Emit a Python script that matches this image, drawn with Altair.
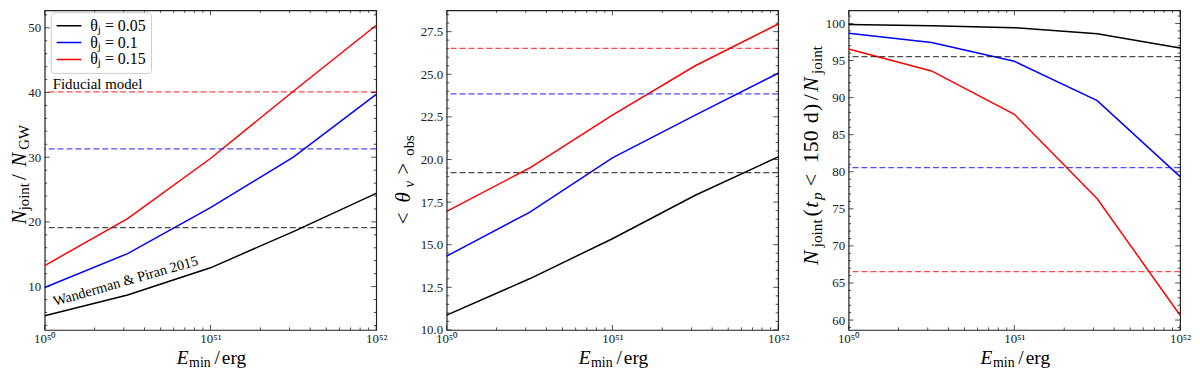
import altair as alt
import pandas as pd

FONT = "Liberation Serif"

# ---------------- data ----------------
E_min = [1e50, 3.1623e50, 1e51, 3.1623e51, 1e52]
series = ["θⱼ = 0.05", "θⱼ = 0.1", "θⱼ = 0.15"]
colors = ["#000000", "#0000ff", "#ff0000"]

n_joint_005 = [5.5, 8.7, 12.9, 18.5, 24.4]
n_joint_010 = [9.85, 15.1, 22.2, 30.0, 39.7]
n_joint_015 = [13.25, 20.5, 29.8, 40.2, 50.4]
n_joint_fid = [19.1, 31.3, 40.1]

theta_005 = [10.87, 13.0, 15.35, 17.9, 20.15]
theta_010 = [14.33, 16.9, 20.1, 22.6, 25.06]
theta_015 = [16.96, 19.5, 22.6, 25.5, 27.95]
theta_fid = [19.23, 23.85, 26.52]

frac_005 = [99.87, 99.7, 99.43, 98.6, 96.7]
frac_010 = [98.67, 97.44, 94.9, 89.6, 79.35]
frac_015 = [96.55, 93.6, 87.75, 76.35, 60.65]
frac_fid = [95.53, 80.55, 66.53]

x_major = [1e50, 1e51, 1e52]
x_tick_labels = ["10⁵⁰", "10⁵¹", "10⁵²"]
x_minor = [k * 10.0 ** n for n in (50, 51) for k in range(2, 10)]

y1_major = [10, 20, 30, 40, 50]
y1_minor = [v for v in range(4, 53, 2) if v % 10]
y2_major = [10.0, 12.5, 15.0, 17.5, 20.0, 22.5, 25.0, 27.5]
y2_minor = [10 + 0.5 * i for i in range(38) if (i % 5)]
y3_major = [60, 65, 70, 75, 80, 85, 90, 95, 100]
y3_minor = [v for v in range(59, 102) if v % 5]

W, H = 334, 322

xscale = alt.Scale(type="log", domain=[1e50, 1e52], nice=False)
cscale = alt.Scale(domain=series, range=colors)

label_expr = "datum.value < 5e50 ? '%s' : (datum.value < 5e51 ? '%s' : '%s')" % tuple(x_tick_labels)

xaxis = alt.Axis(
    values=x_major, labelExpr=label_expr, ticks=False, domain=False, grid=False,
    title=None, labelFlush=False, labelOverlap=False, labelPadding=3,
    labelFont=FONT, labelFontSize=13, labelColor="#222")


def make_yaxis(ymajor, yfmt):
    return alt.Axis(
        values=ymajor, format=yfmt, ticks=False, domain=False, grid=False,
        title=None, labelFlush=False, labelOverlap=False, labelPadding=4,
        labelFont=FONT, labelFontSize=13, labelColor="#222")


def txt(s, x, y, size, italic=False, angle=0):
    return alt.Chart(pd.DataFrame({"t": [s]})).mark_text(
        align="left", baseline="alphabetic", angle=angle, fontSize=size,
        font=FONT, fontStyle="italic" if italic else "normal", color="#000"
    ).encode(x=alt.value(x), y=alt.value(y), text="t:N")


def x_title():
    # E_min / erg
    mb, sb = 356, 359.5
    return [
        txt("E", 133, mb, 19.5, italic=True),
        txt("min", 145.5, sb, 14),
        txt("/", 171, mb, 19.5),
        txt("erg", 178.5, mb, 19.5),
    ]


def tick_layers(yscale, yaxis, ymajor, yminor):
    layers = []
    for vals, L in ((x_major, 5), (x_minor, 2.5)):
        d = pd.DataFrame({"E": vals})
        layers.append(alt.Chart(d).mark_rule(color="#222", strokeWidth=0.8).encode(
            x=alt.X("E:Q", scale=xscale, axis=xaxis), y=alt.value(H), y2=alt.value(H - L)))
        layers.append(alt.Chart(d).mark_rule(color="#222", strokeWidth=0.8).encode(
            x=alt.X("E:Q", scale=xscale, axis=xaxis), y=alt.value(0), y2=alt.value(L)))
    for vals, L in ((ymajor, 5), (yminor, 2.5)):
        d = pd.DataFrame({"v": vals})
        layers.append(alt.Chart(d).mark_rule(color="#222", strokeWidth=0.8).encode(
            y=alt.Y("v:Q", scale=yscale, axis=yaxis), x=alt.value(0), x2=alt.value(L)))
        layers.append(alt.Chart(d).mark_rule(color="#222", strokeWidth=0.8).encode(
            y=alt.Y("v:Q", scale=yscale, axis=yaxis), x=alt.value(W - L), x2=alt.value(W)))
    return layers


def panel(vals, fid, ydomain, ymajor, yminor, yfmt, legend, extra):
    df = pd.DataFrame({
        "E": E_min * 3,
        "v": vals[0] + vals[1] + vals[2],
        "s": [s for s in series for _ in E_min],
    })
    yscale = alt.Scale(domain=ydomain, nice=False, zero=False)
    yaxis = make_yaxis(ymajor, yfmt)
    lines = alt.Chart(df).mark_line(strokeWidth=1.5).encode(
        x=alt.X("E:Q", scale=xscale, axis=xaxis),
        y=alt.Y("v:Q", scale=yscale, axis=yaxis),
        color=alt.Color("s:N", scale=cscale, sort=series, legend=legend),
    )
    rules = []
    for i in range(3):
        rules.append(alt.Chart(pd.DataFrame({"v": [fid[i]]})).mark_rule(
            strokeDash=[6, 3], strokeWidth=1.3, opacity=0.7).encode(
            y=alt.Y("v:Q", scale=yscale, axis=yaxis),
            color=alt.value(colors[i]),
        ))
    layers = [lines] + rules + tick_layers(yscale, yaxis, ymajor, yminor) + x_title() + extra
    return alt.layer(*layers).properties(width=W, height=H)


legend = alt.Legend(
    orient="none", legendX=6, legendY=2, title=None, symbolType="stroke",
    symbolSize=625, symbolStrokeWidth=1.5, labelFont=FONT, labelFontSize=16,
    labelColor="#000", strokeColor="#cccccc", fillColor="white", cornerRadius=3,
    padding=5, rowPadding=0, clipHeight=17, labelOffset=8, labelLimit=0)

# panel 1 extra text: y title + annotations
M, S = 21, 15
b1, s1 = -19, -15.5
p1_extra = [
    txt("N", b1, 215.5, M, italic=True, angle=270),
    txt("joint", s1, 201.5, S, angle=270),
    txt("/", b1, 171, M, angle=270),
    txt("N", b1, 157.5, M, italic=True, angle=270),
    txt("GW", s1, 140.5, S, angle=270),
    txt("Fiducial model", 8, 79, 15),
    txt("Wanderman & Piran 2015", 10, 298, 14.5, angle=344),
]

p2_extra = [
    txt("<", -37, 215.5, M, angle=270),
    txt("θ", -37, 193.5, M, italic=True, angle=270),
    txt("v", -32.5, 178.5, S, italic=True, angle=270),
    txt(">", -37, 165.5, M, angle=270),
    txt("obs", -32.5, 146.5, S, angle=270),
]

M3, S3 = 22, 15.5
b3, s3 = -31, -26.5
p3_extra = [
    txt("N", b3, 256.5, M3, italic=True, angle=270),
    txt("joint", s3, 238.8, S3, angle=270),
    txt("(", b3, 207.6, M3, angle=270),
    txt("t", b3, 199, M3, italic=True, angle=270),
    txt("p", s3, 191.1, S3, italic=True, angle=270),
    txt("<", b3, 177.2, M3, angle=270),
    txt("150", b3, 154, M3, angle=270),
    txt("d", b3, 113.7, M3, angle=270),
    txt(")", b3, 101.4, M3, angle=270),
    txt("/", b3, 90.5, M3, angle=270),
    txt("N", b3, 81.9, M3, italic=True, angle=270),
    txt("joint", s3, 64.2, S3, angle=270),
]

p1 = panel([n_joint_005, n_joint_010, n_joint_015], n_joint_fid, [3.3, 52.7],
           y1_major, y1_minor, "d", legend, p1_extra)
p2 = panel([theta_005, theta_010, theta_015], theta_fid, [10.0, 28.75],
           y2_major, y2_minor, ".1f", None, p2_extra)
p3 = panel([frac_005, frac_010, frac_015], frac_fid, [58.67, 101.77],
           y3_major, y3_minor, "d", None, p3_extra)

chart = alt.hconcat(p1, p2, p3, spacing=71, bounds="flush").resolve_scale(
    x="independent", y="independent", color="independent"
).properties(
    padding={"left": 0, "top": 0, "right": 0, "bottom": -3},
    background="white",
).configure_view(stroke="#222", strokeWidth=1.2)

chart.save("out.html", embed_options={"renderer": "svg", "actions": False})
